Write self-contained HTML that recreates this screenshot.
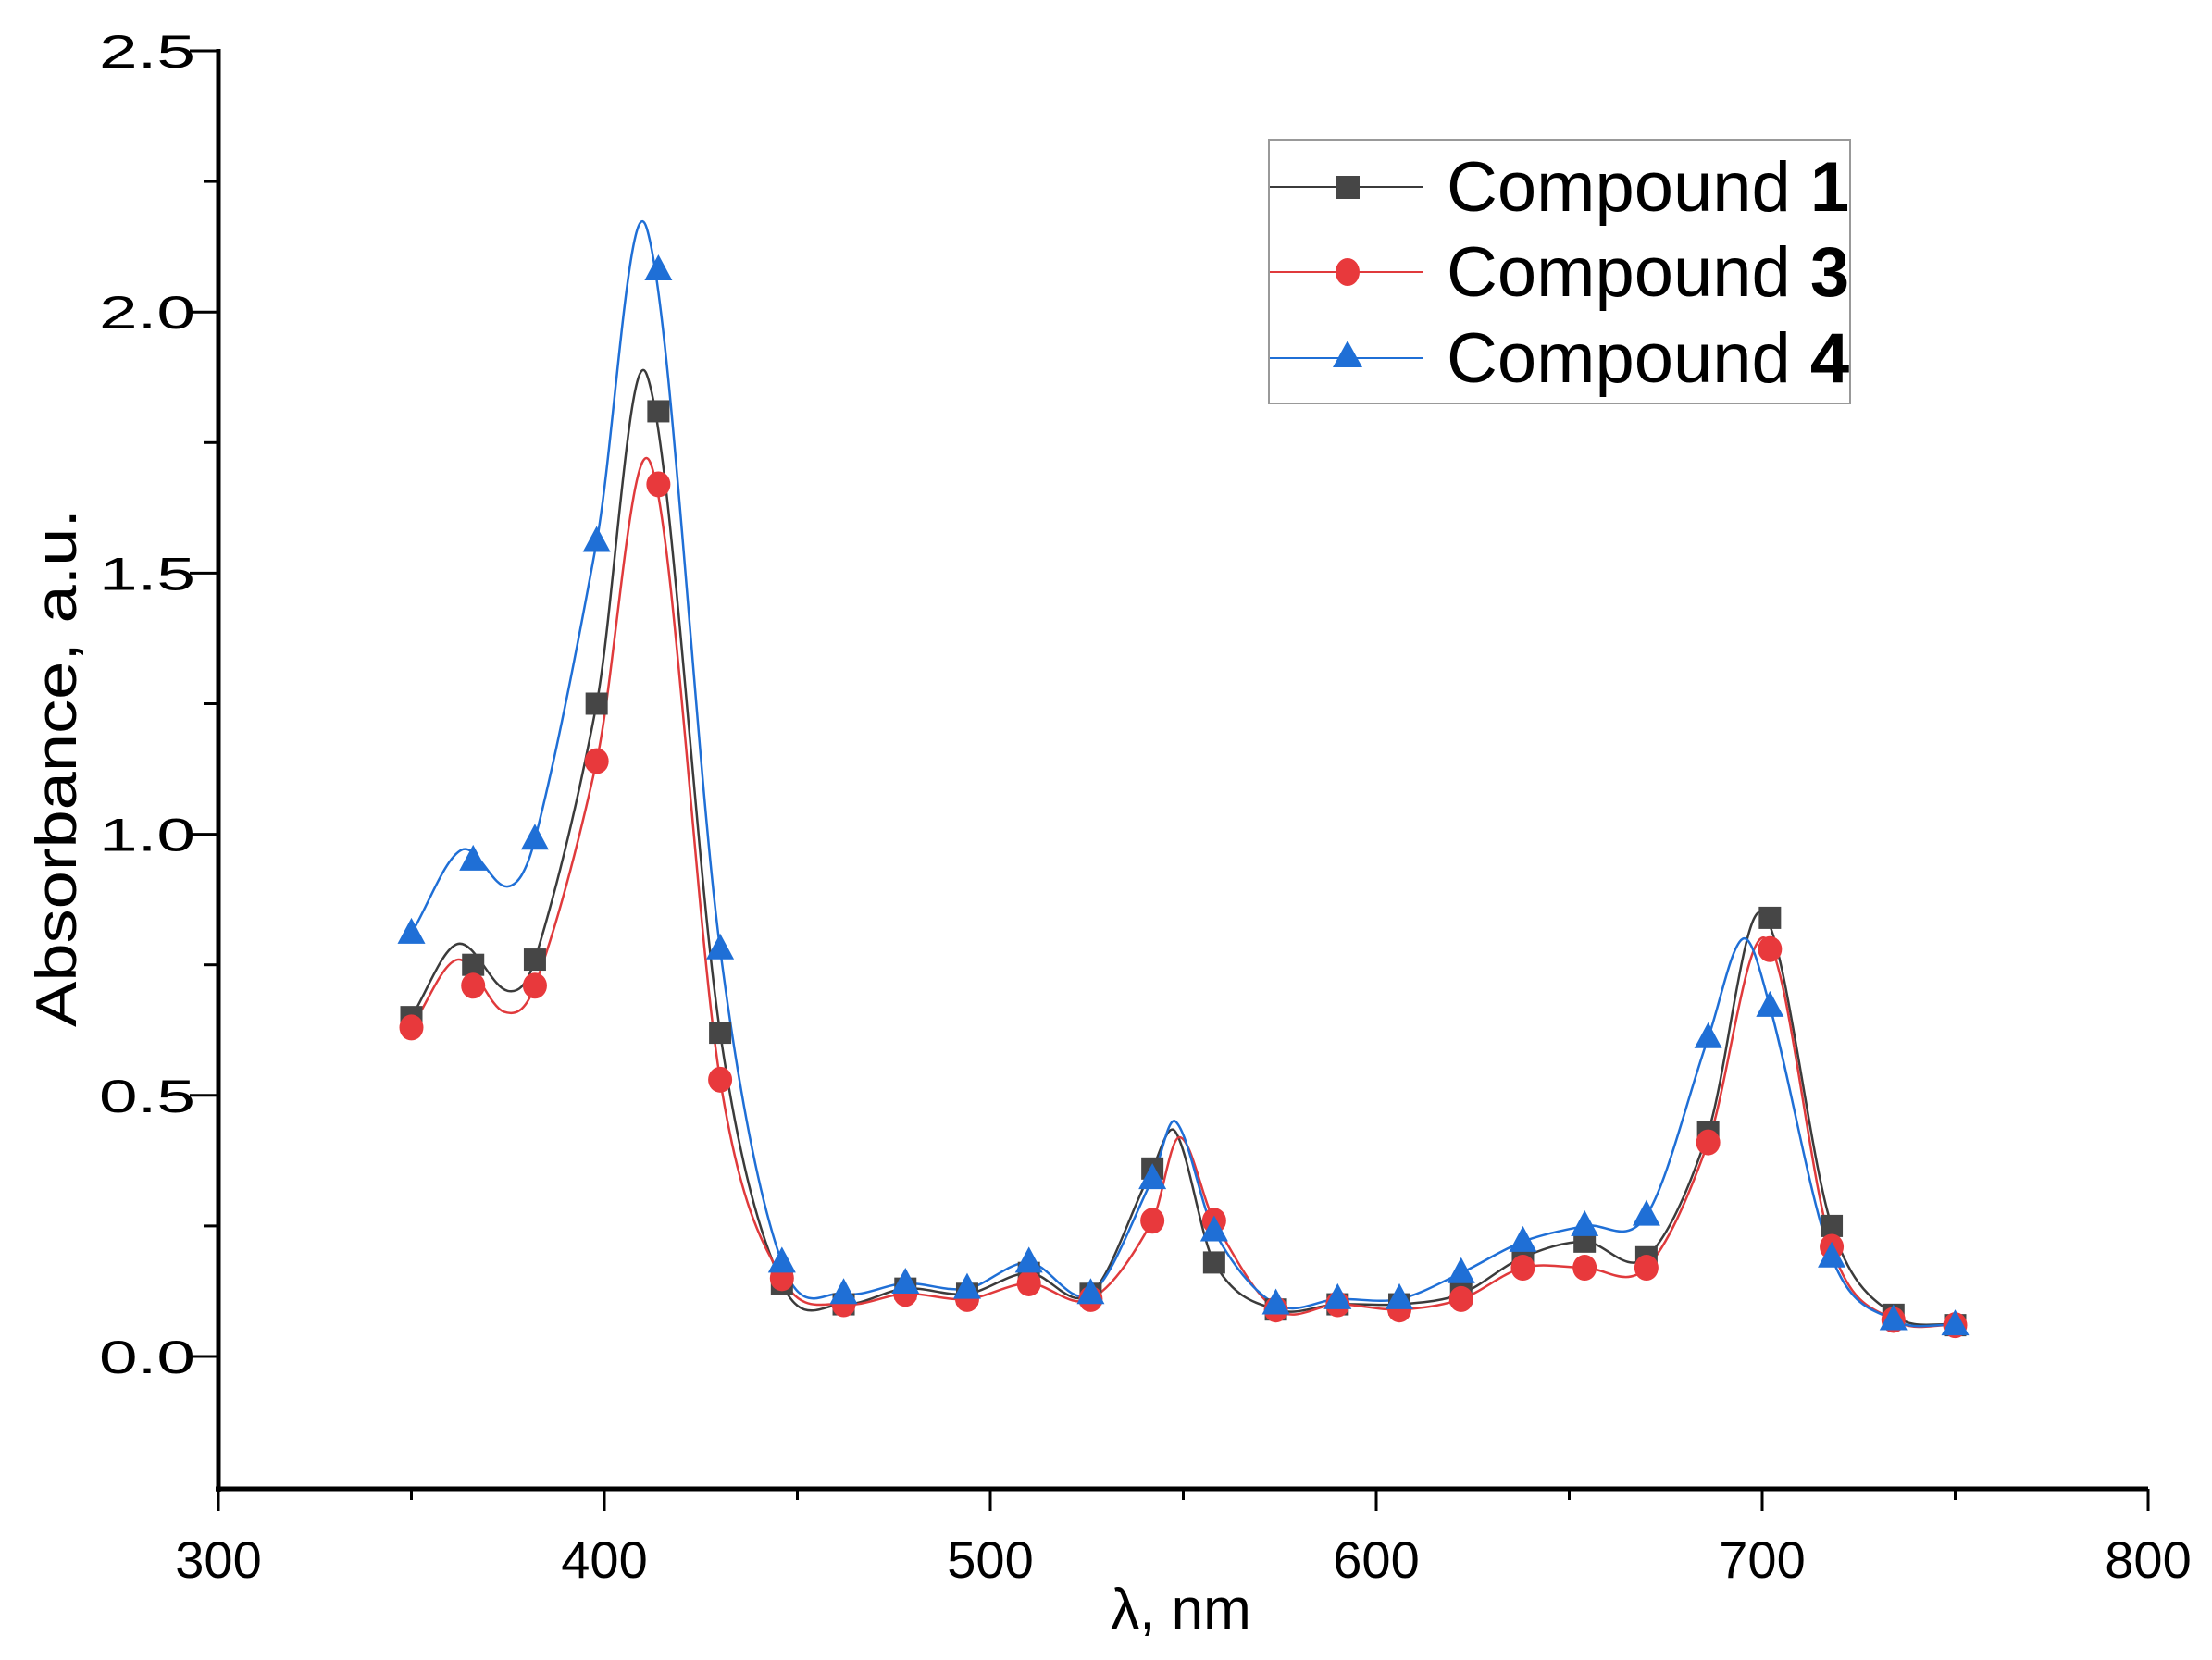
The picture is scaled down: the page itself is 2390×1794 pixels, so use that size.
<!DOCTYPE html>
<html><head><meta charset="utf-8"><style>html,body{margin:0;padding:0;background:#fff}svg{display:block}</style></head>
<body>
<svg id="s" width="2390" height="1794" xmlns="http://www.w3.org/2000/svg" font-family="Liberation Sans, sans-serif">
<rect width="2390" height="1794" fill="#fff"/>
<g id="curves"></g>
<g id="marks"></g>
<g stroke="#000" fill="none">
<line x1="236" y1="53" x2="236" y2="1612" stroke-width="5"/>
<line x1="233" y1="1609" x2="2321" y2="1609" stroke-width="5"/>
</g>
<g id="ticks" stroke="#000" stroke-width="3"></g>
<g id="labels" font-size="50" fill="#000"></g>
<text x="0" y="0" font-size="62" transform="translate(82,830) rotate(-90)" text-anchor="middle" textLength="560" lengthAdjust="spacingAndGlyphs">Absorbance, a.u.</text>
<text x="1276" y="1760" font-size="62" text-anchor="middle">λ, nm</text>
<rect x="1371" y="151" width="628" height="285" fill="#fff" stroke="#999" stroke-width="2"/>
<line x1="1372" y1="202" x2="1538" y2="202" stroke="#3b3b3b" stroke-width="2"/>
<rect x="1444" y="190" width="25" height="25" fill="#464646"/>
<line x1="1372" y1="294" x2="1538" y2="294" stroke="#e03a3c" stroke-width="2"/>
<ellipse cx="1456" cy="294" rx="13" ry="15" fill="#e8393c"/>
<line x1="1372" y1="387" x2="1538" y2="387" stroke="#1f6fd6" stroke-width="2"/>
<polygon points="1456,368 1472,397 1440,397" fill="#1f6fd6"/>
<g font-size="76" fill="#000">
<text x="1563" y="228">Compound <tspan font-weight="bold">1</tspan></text>
<text x="1563" y="320">Compound <tspan font-weight="bold">3</tspan></text>
<text x="1563" y="413">Compound <tspan font-weight="bold">4</tspan></text>
</g>
</svg>
<script>
const NS="http://www.w3.org/2000/svg";
const X=l=>236+(l-300)*4.17, Y=v=>1466-v*564.4;
function el(p,t,a){const e=document.createElementNS(NS,t);for(const k in a)e.setAttribute(k,a[k]);p.appendChild(e);return e;}
const tk=document.getElementById('ticks'), lb=document.getElementById('labels');
for(let i=0;i<=11;i++){const v=-0.25+i*0.25;if(v<-0.2)continue;const y=Y(v);const major=(i%2==1);
el(tk,'line',{x1:major?205:220,y1:y,x2:236,y2:y});
if(major){const t=el(lb,'text',{x:211,y:y+18,'text-anchor':'end',textLength:104,lengthAdjust:'spacingAndGlyphs'});t.textContent=v.toFixed(1);}}
for(let l=300;l<=800;l+=50){const x=X(l);const major=l%100==0;el(tk,'line',{x1:x,y1:1609,x2:x,y2:major?1633:1621});
if(major){const t=el(lb,'text',{x:x,y:1705,'text-anchor':'middle','font-size':56});t.textContent=l;}}
const L=[350,366,382,398,414,430,446,462,478,494,510,526,542,558,574,590,606,622,638,654,670,686,702,718,734,750];
const D={
c1:[0.65,0.75,0.76,1.25,1.81,0.62,0.14,0.10,0.13,0.12,0.16,0.12,0.36,0.18,0.09,0.10,0.10,0.12,0.19,0.22,0.19,0.43,0.84,0.25,0.08,0.06],
c3:[0.63,0.71,0.71,1.14,1.67,0.53,0.15,0.10,0.12,0.11,0.14,0.11,0.26,0.26,0.09,0.10,0.09,0.11,0.17,0.17,0.17,0.41,0.78,0.21,0.07,0.06],
c4:[0.81,0.95,0.99,1.56,2.08,0.78,0.18,0.12,0.14,0.13,0.18,0.12,0.34,0.24,0.10,0.11,0.11,0.16,0.22,0.25,0.27,0.61,0.67,0.19,0.07,0.06]};
const extra={c1:[[362,0.79],[375,0.70],[411,1.88],[548,0.43],[700,0.85]],
c3:[[362,0.76],[374,0.66],[412,1.71],[549,0.42],[701,0.80]],
c4:[[363,0.97],[375,0.90],[411,2.16],[548,0.45],[695,0.80]]};
const drop={c1:[366,414,702],c3:[366,414,702],c4:[366,414]};
const col={c1:'#3b3b3b',c3:'#e03a3c',c4:'#1f6fd6'};
const cg=document.getElementById('curves'), mg=document.getElementById('marks');
for(const k of ['c1','c3','c4']){
let pts=L.map((l,i)=>[l,D[k][i]]).filter(p=>!drop[k].includes(p[0])).concat(extra[k]).sort((a,b)=>a[0]-b[0]);
pts=pts.map(p=>[X(p[0]),Y(p[1])]);
let d='M'+pts[0][0]+','+pts[0][1];
for(let i=0;i<pts.length-1;i++){const p0=pts[Math.max(0,i-1)],p1=pts[i],p2=pts[i+1],p3=pts[Math.min(pts.length-1,i+2)];
const h=p2[0]-p1[0];
let m1=(p2[1]-p0[1])/(p2[0]-p0[0]||1), m2=(p3[1]-p1[1])/(p3[0]-p1[0]||1);
d+=` C${p1[0]+h/3},${p1[1]+m1*h/3} ${p2[0]-h/3},${p2[1]-m2*h/3} ${p2[0]},${p2[1]}`;}
el(cg,'path',{d:d,fill:'none',stroke:col[k],'stroke-width':2.5});
}
for(const k of ['c1','c3','c4']){L.forEach((l,i)=>{const x=X(l),y=Y(D[k][i]);
if(k=='c1')el(mg,'rect',{x:x-12,y:y-12,width:24,height:24,fill:'#464646'});
else if(k=='c3')el(mg,'ellipse',{cx:x,cy:y,rx:13,ry:14,fill:'#e8393c'});
else el(mg,'polygon',{points:`${x},${y-17} ${x+15},${y+11} ${x-15},${y+11}`,fill:'#1f6fd6'});});}
</script>
</body></html>
